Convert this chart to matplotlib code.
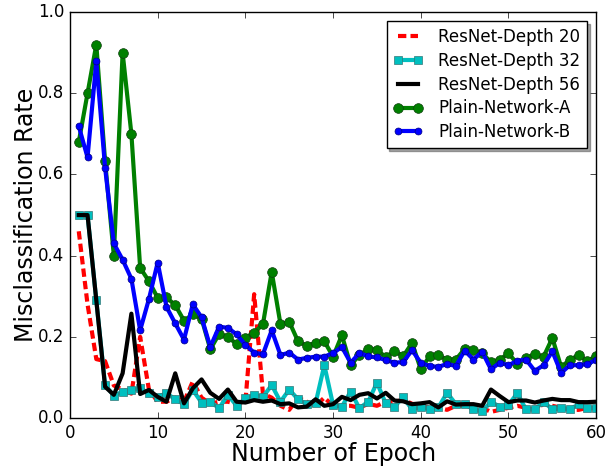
import numpy as np
import matplotlib
matplotlib.use('Agg')
import matplotlib.pyplot as plt

epochs = np.arange(1, 61)

resnet20 = [0.46, 0.28, 0.145, 0.14, 0.08, 0.07, 0.06, 0.20, 0.07, 0.04,
            0.04, 0.05, 0.04, 0.09, 0.05, 0.035, 0.04, 0.04, 0.035, 0.04,
            0.305, 0.06, 0.05, 0.03, 0.02, 0.05, 0.04, 0.03, 0.05, 0.03,
            0.03, 0.03, 0.025, 0.035, 0.03, 0.04, 0.04, 0.045, 0.035, 0.03,
            0.025, 0.025, 0.02, 0.03, 0.03, 0.03, 0.025, 0.015, 0.02, 0.025,
            0.03, 0.025, 0.02, 0.035, 0.03, 0.025, 0.02, 0.02, 0.025, 0.025]

resnet32 = [0.5, 0.5, 0.29, 0.081, 0.055, 0.065, 0.069, 0.073, 0.061, 0.052,
            0.061, 0.046, 0.034, 0.069, 0.038, 0.04, 0.024, 0.057, 0.03, 0.048,
            0.057, 0.052, 0.081, 0.04, 0.07, 0.046, 0.034, 0.036, 0.13, 0.032,
            0.028, 0.065, 0.024, 0.04, 0.087, 0.036, 0.028, 0.051, 0.021, 0.028,
            0.021, 0.026, 0.062, 0.034, 0.034, 0.021, 0.016, 0.04, 0.028, 0.032,
            0.061, 0.021, 0.021, 0.04, 0.021, 0.024, 0.021, 0.034, 0.024, 0.024]

resnet56 = [0.5, 0.5, 0.29, 0.077, 0.057, 0.11, 0.257, 0.059, 0.069, 0.052,
            0.04, 0.11, 0.036, 0.073, 0.095, 0.062, 0.047, 0.07, 0.04, 0.038,
            0.044, 0.04, 0.043, 0.034, 0.036, 0.026, 0.028, 0.046, 0.03, 0.034,
            0.052, 0.044, 0.057, 0.061, 0.048, 0.062, 0.043, 0.041, 0.034, 0.036,
            0.039, 0.026, 0.041, 0.033, 0.034, 0.034, 0.03, 0.07, 0.054, 0.039,
            0.043, 0.043, 0.038, 0.043, 0.047, 0.044, 0.044, 0.039, 0.039, 0.04]

plain_a = [0.68, 0.80, 0.92, 0.633, 0.40, 0.90, 0.70, 0.37, 0.337, 0.296,
           0.297, 0.278, 0.24, 0.255, 0.245, 0.169, 0.207, 0.20, 0.182, 0.198,
           0.21, 0.231, 0.36, 0.231, 0.237, 0.189, 0.178, 0.185, 0.189, 0.151,
           0.204, 0.13, 0.155, 0.17, 0.168, 0.15, 0.165, 0.152, 0.185, 0.12,
           0.152, 0.154, 0.144, 0.144, 0.17, 0.167, 0.159, 0.138, 0.144, 0.159,
           0.134, 0.147, 0.157, 0.151, 0.197, 0.126, 0.143, 0.155, 0.141, 0.152]

plain_b = [0.719, 0.642, 0.879, 0.617, 0.43, 0.39, 0.343, 0.216, 0.293, 0.383,
           0.274, 0.233, 0.193, 0.28, 0.248, 0.175, 0.225, 0.222, 0.206, 0.18,
           0.161, 0.157, 0.216, 0.155, 0.161, 0.144, 0.148, 0.151, 0.151, 0.16,
           0.175, 0.136, 0.16, 0.152, 0.149, 0.143, 0.136, 0.138, 0.167, 0.136,
           0.128, 0.126, 0.133, 0.128, 0.166, 0.144, 0.163, 0.12, 0.136, 0.13,
           0.141, 0.144, 0.116, 0.13, 0.164, 0.111, 0.13, 0.13, 0.133, 0.143]

plt.style.use('classic')
fig = plt.figure(figsize=(6.14, 4.67), dpi=100)
fig.patch.set_facecolor('white')
ax = fig.add_axes([0.114, 0.105, 0.857, 0.869])

ax.plot(epochs, resnet20, 'r--', lw=3, dashes=(6, 3), label='ResNet-Depth 20')
ax.plot(epochs, resnet32, 'c-', lw=3, marker='s', ms=6, mec='#337777', label='ResNet-Depth 32')
ax.plot(epochs, resnet56, 'k-', lw=3, label='ResNet-Depth 56')
ax.plot(epochs, plain_a, 'g-', lw=3, marker='o', ms=7, mec='#104010', label='Plain-Network-A')
ax.plot(epochs, plain_b, 'b-', lw=3, marker='o', ms=5, mec='#000080', label='Plain-Network-B')

ax.set_xlim(0, 60)
ax.set_ylim(0, 1.0)
ax.set_xticks(np.arange(0, 61, 10))
ax.set_yticks(np.arange(0, 1.01, 0.2))
ax.tick_params(labelsize=12)
ax.set_xlabel('Number of Epoch', fontsize=17, labelpad=0)
ax.set_ylabel('Misclassification Rate', fontsize=17, labelpad=0)

leg = ax.legend(loc='upper right', fontsize=12, shadow=True, numpoints=2,
                handlelength=1.8, handletextpad=0.9, labelspacing=0.35,
                borderaxespad=0.55)

fig.savefig('out.png', dpi=100, facecolor='white')
